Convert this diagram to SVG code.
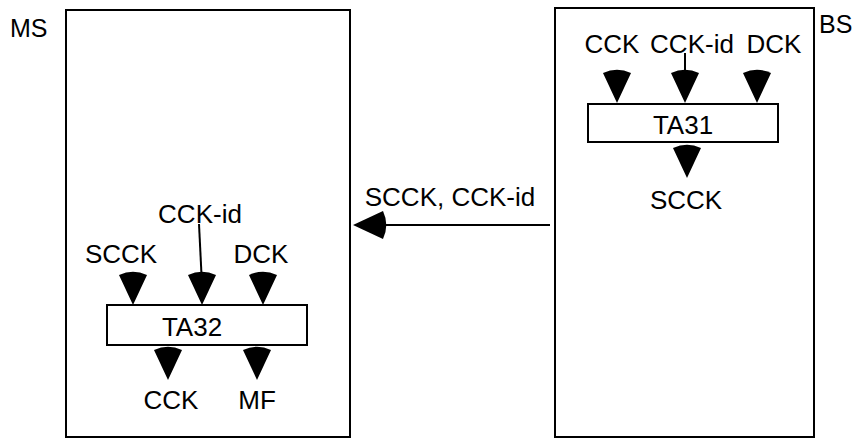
<svg xmlns="http://www.w3.org/2000/svg" xmlns:xlink="http://www.w3.org/1999/xlink" width="858" height="439" viewBox="0 0 858 439">
  <style>
    .box { fill: #ffffff; stroke: #000000; stroke-width: 2; }
    .lbl { font-family: "Liberation Sans", Arial, sans-serif; font-size: 26px; fill: #000000; }
    .mid { text-anchor: middle; }
    .ln { stroke: #000000; stroke-width: 2; fill: none; }
    .ah { fill: #000000; stroke: none; }
  </style>
  <defs>
    <path id="ahd" d="M0,0 L-14,-30 A33,33 0 0 1 14,-30 Z"/>
  </defs>
  <rect width="858" height="439" fill="#ffffff"/>

  <g id="MS">
    <rect class="box" x="66" y="10" width="284" height="427"/>
    <text class="lbl" x="10" y="37" style="font-size:25px">MS</text>
  </g>
  <g id="BS">
    <rect class="box" x="555" y="8" width="259" height="429"/>
    <text class="lbl" x="819" y="33" style="font-size:25px">BS</text>
  </g>

  <g id="bs-inputs">
    <text class="lbl mid" x="612" y="53">CCK</text>
    <text class="lbl mid" x="692" y="53">CCK-id</text>
    <text class="lbl mid" x="774" y="53">DCK</text>
  </g>
  <g id="TA31">
    <rect class="box" x="588" y="104" width="190" height="38"/>
    <text class="lbl mid" x="683" y="134">TA31</text>
  </g>
  <g id="bs-output">
    <text class="lbl mid" x="686" y="209">SCCK</text>
  </g>

  <g id="link-label">
    <text class="lbl mid" x="450" y="206">SCCK, CCK-id</text>
  </g>

  <g id="ms-inputs">
    <text class="lbl mid" x="200" y="223">CCK-id</text>
    <text class="lbl mid" x="121" y="263">SCCK</text>
    <text class="lbl mid" x="261" y="263">DCK</text>
  </g>
  <g id="TA32">
    <rect class="box" x="107" y="305" width="200" height="40"/>
    <text class="lbl mid" x="192" y="336">TA32</text>
  </g>
  <g id="ms-outputs">
    <text class="lbl mid" x="171" y="409">CCK</text>
    <text class="lbl mid" x="257" y="409">MF</text>
  </g>

  <g id="connectors">
    <line class="ln" x1="685" y1="53" x2="685" y2="80"/>
    <line class="ln" x1="199" y1="224" x2="202" y2="285"/>
    <line class="ln" x1="550" y1="225" x2="370" y2="225"/>
    <use class="ah" xlink:href="#ahd" transform="translate(617,103)"/>
    <use class="ah" xlink:href="#ahd" transform="translate(685,103)"/>
    <use class="ah" xlink:href="#ahd" transform="translate(757,103)"/>
    <use class="ah" xlink:href="#ahd" transform="translate(687,178)"/>
    <use class="ah" xlink:href="#ahd" transform="translate(133,305)"/>
    <use class="ah" xlink:href="#ahd" transform="translate(202,305)"/>
    <use class="ah" xlink:href="#ahd" transform="translate(263,305)"/>
    <use class="ah" xlink:href="#ahd" transform="translate(168,380)"/>
    <use class="ah" xlink:href="#ahd" transform="translate(257,380)"/>
    <use class="ah" xlink:href="#ahd" transform="translate(353,225) rotate(90)"/>
  </g>
</svg>
